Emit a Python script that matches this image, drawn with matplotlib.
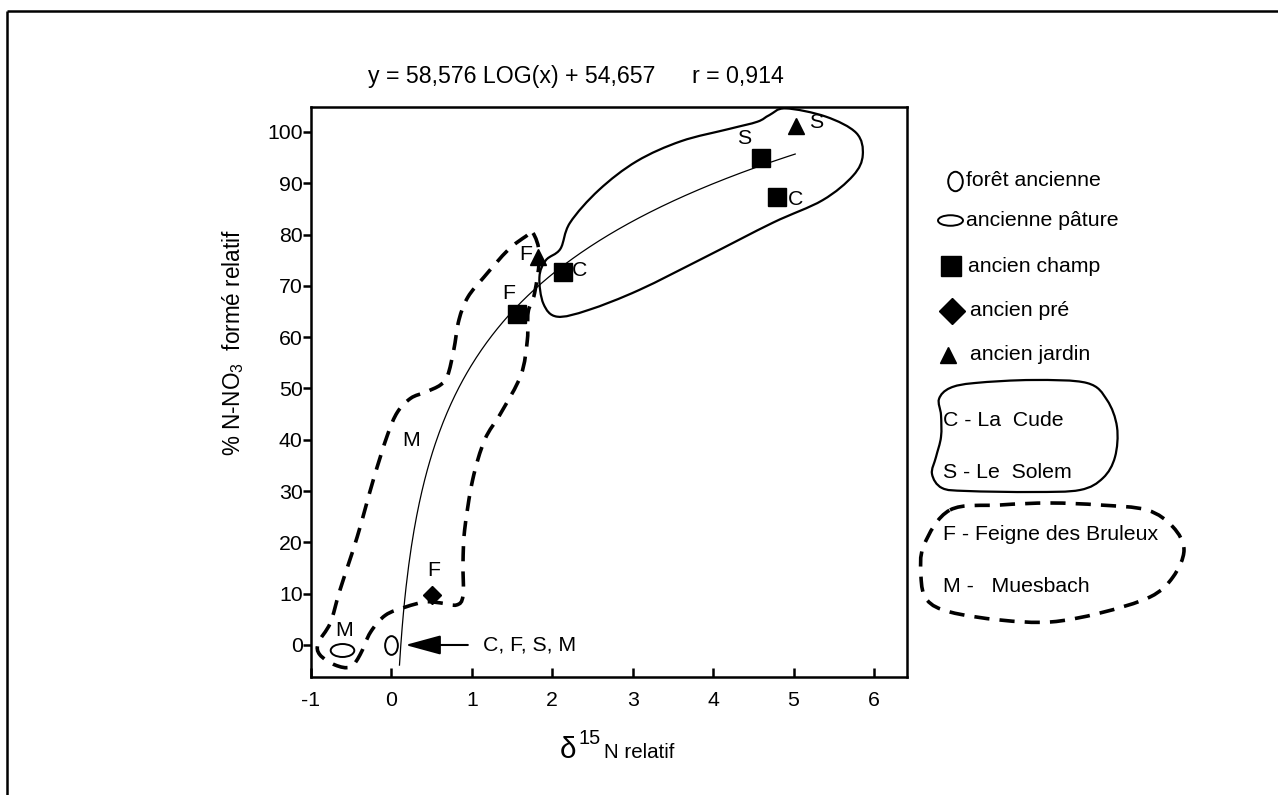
import numpy as np
import matplotlib
matplotlib.use('Agg')
import matplotlib.pyplot as plt
from matplotlib.path import Path
from matplotlib.patches import PathPatch
from matplotlib.transforms import Affine2D
from matplotlib import font_manager as fm

names = {f.name for f in fm.fontManager.ttflist}
if 'Liberation Sans Narrow' in names:
    FAM = ['Liberation Sans Narrow', 'DejaVu Sans']
    FS = 17.5
else:
    FAM = ['Liberation Sans', 'DejaVu Sans']
    FS = 15.3
plt.rcParams['font.family'] = FAM
plt.rcParams['mathtext.default'] = 'regular'

# ---------------- data ----------------
fit_slope = 58.576
fit_intercept = 54.657
fit_x_start, fit_x_end = 0.1, 5.02

champ_x = [1.56, 2.13, 4.59, 4.79]
champ_y = [64.5, 72.8, 94.9, 87.4]
champ_lbl = ['F', 'C', 'S', 'C']

jardin_x = [1.82, 5.03]
jardin_y = [75.7, 101.2]
jardin_lbl = ['F', 'S']

pre_x = [0.50]
pre_y = [9.7]
pre_lbl = ['F']

pature_x = [-0.62]
pature_y = [-1.0]
pature_lbl = ['M']

foret_x = [0.0]
foret_y = [0.0]
foret_lbl = 'C, F, S, M'

# hand-drawn envelopes (data coordinates)
solid_env_x = [4.90, 5.40, 5.78, 5.86, 5.74, 5.36, 4.74, 3.90, 3.08, 2.45, 2.06,
               1.89, 1.84, 1.92, 2.10, 2.22, 2.58, 3.05, 3.60, 4.20, 4.55, 4.70]
solid_env_y = [104.6, 103.0, 99.8, 95.5, 91.5, 86.7, 82.3, 75.6, 69.2, 65.3, 64.0,
               66.5, 71.7, 75.0, 77.2, 82.3, 88.7, 94.3, 98.2, 100.6, 102.0, 103.3]

dashed_env_x = [1.76, 1.84, 1.78, 1.70, 1.69, 1.61, 1.36, 1.16, 1.01, 0.91, 0.89,
                0.89, 0.81, 0.61, 0.42, 0.175, -0.075, -0.26, -0.39, -0.51, -0.70,
                -0.89, -0.91, -0.76, -0.64, -0.425, -0.225, -0.05, 0.075, 0.24,
                0.425, 0.61, 0.70, 0.775, 0.84, 0.95, 1.15, 1.45, 1.675]
dashed_env_y = [80.3, 76.0, 68.6, 64.9, 59.5, 52.6, 45.2, 40.0, 32.2, 22.4, 16.0,
                9.6, 7.8, 8.2, 8.4, 7.4, 5.8, 2.5, -1.9, -4.3, -3.9,
                -1.9, 0.4, 4.3, 10.7, 21.1, 32.2, 40.9, 45.4, 48.1,
                49.3, 50.7, 52.6, 57.5, 63.4, 67.8, 71.7, 77.0, 79.7]

site_M_x, site_M_y = 0.25, 39.8

x_ticks = [-1, 0, 1, 2, 3, 4, 5, 6]
y_ticks = [0, 10, 20, 30, 40, 50, 60, 70, 80, 90, 100]

equation_text = 'y = 58,576 LOG(x) + 54,657'
r_text = 'r = 0,914'
legend_markers = ['forêt ancienne', 'ancienne pâture', 'ancien champ', 'ancien pré', 'ancien jardin']
legend_solid = ['C - La  Cude', 'S - Le  Solem']
legend_dashed = ['F - Feigne des Bruleux', 'M -   Muesbach']

# ---------------- helpers ----------------
def smooth_closed(xs, ys):
    P = np.column_stack([xs, ys]).astype(float)
    n = len(P)
    verts = [P[0]]
    codes = [Path.MOVETO]
    for i in range(n):
        p0 = P[i - 1]; p1 = P[i]; p2 = P[(i + 1) % n]; p3 = P[(i + 2) % n]
        c1 = p1 + (p2 - p0) / 6.0
        c2 = p2 - (p3 - p1) / 6.0
        verts += [c1, c2, p2]
        codes += [Path.CURVE4] * 3
    return Path(np.array(verts), codes)

tall_O = Affine2D().scale(0.68, 1.0).transform_path(Path.unit_circle())
flat_O = Affine2D().scale(1.0, 0.55).transform_path(Path.unit_circle())
flat_O_leg = Affine2D().scale(1.0, 0.42).transform_path(Path.unit_circle())
DASH = (0, (4.2, 2.8))

W, H = 1278, 795
fig = plt.figure(figsize=(W / 100, H / 100), dpi=100)
ax = fig.add_axes([311 / W, 1 - 677 / H, (907 - 311) / W, (677 - 107) / H])

ax.set_xlim(-1.0, 6.41)
ax.set_ylim(-6.24, 104.87)

# regression curve
xf = np.linspace(fit_x_start, fit_x_end, 300)
ax.plot(xf, fit_slope * np.log10(xf) + fit_intercept, color='black', lw=0.9, zorder=3)

# envelopes
ax.add_patch(PathPatch(smooth_closed(solid_env_x, solid_env_y), fill=False,
                       lw=1.6, edgecolor='black', clip_on=False, zorder=2))
ax.add_patch(PathPatch(smooth_closed(dashed_env_x, dashed_env_y), fill=False,
                       lw=2.6, edgecolor='black', linestyle=DASH,
                       clip_on=False, zorder=2))

# points
ax.plot(champ_x, champ_y, 's', color='black', ms=12.5, zorder=4, clip_on=False)
ax.plot(jardin_x, jardin_y, '^', color='black', ms=12, zorder=4, clip_on=False)
ax.plot(pre_x, pre_y, 'D', color='black', ms=9.5, zorder=4)
ax.plot(pature_x, pature_y, marker=flat_O, ls='none', ms=17, mfc='white',
        mec='black', mew=1.4, zorder=4)
ax.plot(foret_x, foret_y, marker=tall_O, ls='none', ms=13.5, mfc='white',
        mec='black', mew=1.4, zorder=4)

lab_kw = dict(textcoords='offset pixels', ha='center', va='center', fontsize=FS, zorder=5)
champ_off = [(-8, 21), (17, 1), (-16, 20), (19, -3)]
for x, y, t, o in zip(champ_x, champ_y, champ_lbl, champ_off):
    ax.annotate(t, (x, y), xytext=o, **lab_kw)
jardin_off = [(-12, 2), (20, 3)]
for x, y, t, o in zip(jardin_x, jardin_y, jardin_lbl, jardin_off):
    ax.annotate(t, (x, y), xytext=o, **lab_kw)
for x, y, t in zip(pre_x, pre_y, pre_lbl):
    ax.annotate(t, (x, y), xytext=(2, 25), **lab_kw)
for x, y, t in zip(pature_x, pature_y, pature_lbl):
    ax.annotate(t, (x, y), xytext=(3, 20), **lab_kw)
ax.text(site_M_x, site_M_y, 'M', ha='center', va='center', fontsize=FS, zorder=5)

# arrow to forest point
ax.annotate('', xy=(foret_x[0], foret_y[0]), xytext=(foret_x[0] + 0.95, foret_y[0]),
            arrowprops=dict(arrowstyle='-|>,head_length=1.1,head_width=0.3',
                            mutation_scale=20, color='black', lw=1.5,
                            shrinkA=0, shrinkB=10),
            zorder=5)
ax.annotate(foret_lbl, (foret_x[0], foret_y[0]), xytext=(92, 0),
            textcoords='offset pixels', ha='left', va='center', fontsize=FS)

# axes styling
for s in ax.spines.values():
    s.set_linewidth(1.8)
ax.set_xticks(x_ticks)
ax.set_yticks(y_ticks)
ax.set_xticklabels([str(v) for v in x_ticks])
ax.set_yticklabels([str(v) for v in y_ticks])
ax.tick_params(axis='x', direction='in', length=6.5, width=1.8, labelsize=FS, pad=10)
ax.tick_params(axis='y', direction='out', length=5.5, width=1.8, labelsize=FS, pad=0.5)

# ---------------- overlay (pixel coordinates) ----------------
ov = fig.add_axes([0, 0, 1, 1], zorder=10)
ov.set_xlim(0, W)
ov.set_ylim(H, 0)
ov.axis('off')
ov.patch.set_alpha(0)

# outer frame (top & left)
ov.plot([7, W], [11, 11], color='black', lw=1.8, solid_capstyle='butt')
ov.plot([7, 7], [11, H], color='black', lw=1.8, solid_capstyle='butt')

# title texts
ov.text(368, 76, equation_text, ha='left', va='center', fontsize=FS * 1.09)
ov.text(692, 76, r_text, ha='left', va='center', fontsize=FS * 1.09)

# axis labels
ov.text(568, 750, 'δ', ha='center', va='center', fontsize=FS + 6)
ov.text(578, 738, '15', ha='left', va='center', fontsize=FS - 1)
ov.text(604, 753, 'N relatif', ha='left', va='center', fontsize=FS - 0.5)
ov.text(233, 343, '% N-NO$_3$  formé relatif', rotation=90, ha='center', va='center',
        fontsize=FS * 1.06)

# legend markers
ov.plot([955], [181], marker=Affine2D().scale(0.75, 1.0).transform_path(Path.unit_circle()),
        ls='none', ms=14, mfc='white', mec='black', mew=1.4)
ov.text(966, 181, legend_markers[0], ha='left', va='center', fontsize=FS)
ov.plot([950], [220], marker=flat_O_leg, ls='none', ms=18, mfc='white', mec='black', mew=1.4)
ov.text(966, 220, legend_markers[1], ha='left', va='center', fontsize=FS)
ov.plot([951], [266], 's', color='black', ms=14)
ov.text(968, 266, legend_markers[2], ha='left', va='center', fontsize=FS)
ov.plot([952], [311], 'D', color='black', ms=13)
ov.text(970, 311, legend_markers[3], ha='left', va='center', fontsize=FS)
ov.plot([948], [355], '^', color='black', ms=11)
ov.text(970, 355, legend_markers[4], ha='left', va='center', fontsize=FS)

# solid legend box (irregular)
box_x = [950, 975, 1033, 1087, 1107, 1117, 1115, 1103, 1080, 1033, 967, 942, 932, 936, 941, 941, 939]
box_y = [388, 383, 380, 383, 400, 427, 457, 478, 490, 492, 491, 488, 474, 457, 437, 415, 399]
ov.add_patch(PathPatch(smooth_closed(box_x, box_y), fill=False, lw=1.6, edgecolor='black'))
ov.text(943, 420, legend_solid[0], ha='left', va='center', fontsize=FS)
ov.text(943, 472, legend_solid[1], ha='left', va='center', fontsize=FS)

# dashed legend outline (irregular)
dl_x = [950, 1000, 1050, 1100, 1147, 1173, 1184, 1173, 1150, 1100, 1050, 1000, 950, 927, 921, 924]
dl_y = [510, 505, 503, 505, 510, 527, 550, 577, 597, 613, 622, 620, 612, 600, 577, 545]
ov.add_patch(PathPatch(smooth_closed(dl_x, dl_y), fill=False, lw=2.6, edgecolor='black',
                       linestyle=DASH))
ov.text(943, 535, legend_dashed[0], ha='left', va='center', fontsize=FS)
ov.text(943, 587, legend_dashed[1], ha='left', va='center', fontsize=FS)

fig.savefig('out.png', dpi=100)
